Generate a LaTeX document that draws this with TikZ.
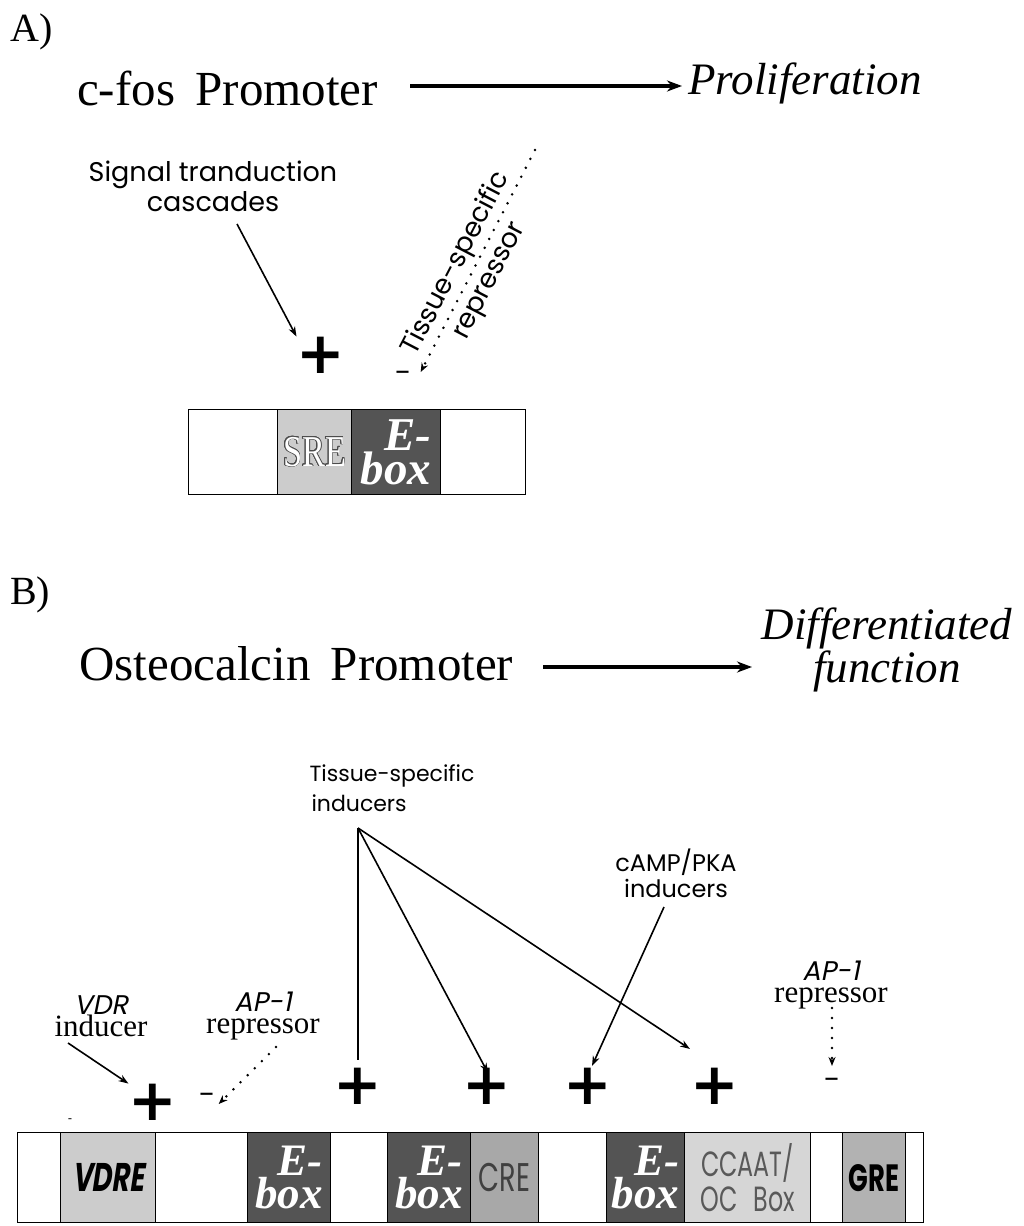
\documentclass[tikz,border=0pt]{standalone}
\usepackage{fontspec}
\setmainfont{Liberation Serif}
\newfontfamily\serifc[FakeStretch=0.78]{Liberation Serif}
\newfontfamily\avg{Poppins}
\newfontfamily\avgit[FakeSlant=0.2]{Poppins}
\newfontfamily\avgc[FakeStretch=0.68]{Poppins}
\newfontfamily\avgci[FakeStretch=0.68,FakeSlant=0.15]{Poppins}
\newfontfamily\symf{DejaVu Sans}
\usepackage{contour}
\contourlength{0.8pt}
\usetikzlibrary{arrows.meta}
\definecolor{ltgray}{gray}{0.80}
\definecolor{ebgray}{gray}{0.33}
\definecolor{mdgray}{gray}{0.66}
\definecolor{ccgray}{gray}{0.84}
\definecolor{grgray}{gray}{0.70}
\begin{document}
\begin{tikzpicture}[x=1pt,y=-1pt,
  seg/.style={draw,line width=1.2pt,inner sep=0pt,anchor=north west,align=center},
  ebox/.style={seg,fill=ebgray,text=white,align=right,font=\fontsize{47}{29}\selectfont\bfseries\itshape},
  ttl/.style={font=\fontsize{49}{50}\selectfont,anchor=base west,inner sep=0pt},
  panel/.style={font=\fontsize{40}{40}\selectfont,anchor=north west,inner sep=0pt},
  lab/.style={font=\fontsize{23}{30}\selectfont\avg,align=center,inner sep=1pt},
  plus/.style={font=\fontsize{58}{58}\selectfont\symf\bfseries,inner sep=0pt},
  minus/.style={font=\fontsize{30}{30}\selectfont\symf,inner sep=0pt},
  act/.style={-{Stealth[length=15pt,width=11pt]},line width=3.4pt},
  ind/.style={-{Stealth[length=10pt,width=7pt]},line width=1.6pt},
  rep/.style={line width=2.8pt,line cap=round,dash pattern=on 0pt off 10pt,-{Stealth[length=9pt,width=7pt]}}]
\useasboundingbox (0,0) rectangle (1023,1226);

% A) c-fos
\node[panel] (pa) at (10,14) {A)};
\node[ttl] (fos) at (77,105) {c-fos\, Promoter};
\node[ttl,font=\fontsize{45}{50}\selectfont\itshape] (prolif) at (688,94) {Proliferation};
\draw[act] (fos.east|-0,86) ++(32,0) coordinate (fosar) -- ([xshift=-6pt]prolif.west|-0,86);
\node[lab,font=\fontsize{27}{30}\selectfont\avg] (sig) at (213,186) {Signal tranduction\\cascades};
\node[plus] (pA) at (321,355) {+};
\node[minus] (mA) at (403,376) {–};
\coordinate (sigfoot) at (237,224);
\draw[ind] (sigfoot) -- (pA.north west);
\coordinate (trtop) at (535,150);
\draw[rep] (trtop) -- ([xshift=10pt,yshift=4pt]mA.east);
\node[lab,rotate=62.5,font=\fontsize{27}{37}\selectfont\avg] (trep) at (473,272) {Tissue-specific\\repressor};
% A) element box
\node[seg,minimum width=89pt,minimum height=85pt] (a1) at (188,409) {};
\node[seg,fill=ltgray,minimum width=74pt,minimum height=85pt,font=\fontsize{44}{44}\selectfont\serifc] (sre) at (277,409) {\color{white}\contour{black!70}{SRE}};
\node[ebox,minimum width=89pt,minimum height=85pt] (eA) at (351,409) {E-\\box};
\node[seg,minimum width=85pt,minimum height=85pt] (a4) at (440,409) {};

% B) osteocalcin
\node[panel] (pb) at (10,577) {B)};
\node[ttl] (oc) at (79,680) {Osteocalcin\, Promoter};
\node[font=\fontsize{45}{40}\selectfont\itshape,align=center,inner sep=0pt] (diff) at (887,650) {Differentiated\\function};
\coordinate (ocarend) at (752,667);
\draw[act] (oc.east|-0,667) ++(30,0) coordinate (ocar) -- (ocarend);

\node[lab,align=left,font=\fontsize{22}{30}\selectfont\avg] (tsi) at (392,788) {Tissue-specific\\\hspace*{2pt}inducers};
\node[lab,font=\fontsize{24}{26}\selectfont\avg] (camp) at (676,873) {cAMP/PKA\\inducers};
\node[align=center,inner sep=0pt,font=\fontsize{31}{22}\selectfont] (vdr) at (101,1016) {{\avgit\fontsize{27}{27}\selectfont VDR}\\inducer};
\node[align=center,inner sep=0pt,font=\fontsize{31}{22}\selectfont] (apl) at (263,1016) {{\avgit\fontsize{27}{27}\selectfont AP-1}\\repressor};
\node[align=center,inner sep=0pt,font=\fontsize{31}{22}\selectfont] (apr) at (831,985) {{\avgit\fontsize{27}{27}\selectfont AP-1}\\repressor};

\node[plus] (p1) at (153,1102) {+};
\node[minus] (m1) at (207,1098) {–};
\node[plus] (p2) at (358,1086) {+};
\node[plus] (p3) at (487,1086) {+};
\node[plus] (p4) at (588,1086) {+};
\node[plus] (p5) at (715,1086) {+};
\node[minus] (m2) at (832,1083) {–};
\node[font=\fontsize{12}{12}\selectfont\symf,inner sep=0pt] (tick) at (70,1121) {-};

\coordinate (tsifoot) at (358,828);
\draw[line width=1.6pt] (tsifoot) -- (p2.north|-0,1060);
\draw[ind] (tsifoot) -- (488,1073);
\draw[ind] (tsifoot) -- (690,1049);
\coordinate (campfoot) at (664,907);
\draw[ind] (campfoot) -- (592,1066);
\coordinate (vdrfoot) at (68,1043);
\draw[ind] (vdrfoot) -- (p1.north west);
\coordinate (aplfoot) at (276,1047);
\draw[rep] (aplfoot) -- ([xshift=4pt,yshift=-6pt]m1.east);
\coordinate (aprfoot) at (832,1008);
\draw[rep,shorten >=17pt] (aprfoot) -- (m2.center);

% B) element box
\foreach \nm/\xa/\w in {b1/17/43,b3/155/92,b5/330/57,b8/538/68,b11/810/32,b13/905/18}
  \node[seg,fill=white,minimum width=\w pt,minimum height=90pt] (\nm) at (\xa,1132) {};
\node[seg,fill=ltgray,minimum width=95pt,minimum height=90pt,font=\fontsize{40}{40}\selectfont\avgci\bfseries] (vdre) at (60,1132) {VDRE};
\node[ebox,minimum width=83pt,minimum height=90pt,font=\fontsize{45}{29}\selectfont\bfseries\itshape] (e1) at (247,1132) {E-\\box};
\node[ebox,minimum width=83pt,minimum height=90pt,font=\fontsize{45}{29}\selectfont\bfseries\itshape] (e2) at (387,1132) {E-\\box};
\node[seg,fill=mdgray,minimum width=68pt,minimum height=90pt,text=black!75,font=\fontsize{40}{40}\selectfont\avgc] (cre) at (470,1132) {CRE};
\node[ebox,minimum width=78pt,minimum height=90pt,font=\fontsize{45}{29}\selectfont\bfseries\itshape] (e3) at (606,1132) {E-\\box};
\node[seg,fill=ccgray,minimum width=126pt,minimum height=90pt,text=black!65,font=\fontsize{35}{35}\selectfont\avgc] (ccaat) at (684,1132) {CCAAT/\\OC\; Box};
\node[seg,fill=grgray,minimum width=63pt,minimum height=90pt,font=\fontsize{38}{38}\selectfont\avgc\bfseries] (gre) at (842,1132) {GRE};
\end{tikzpicture}
\end{document}
